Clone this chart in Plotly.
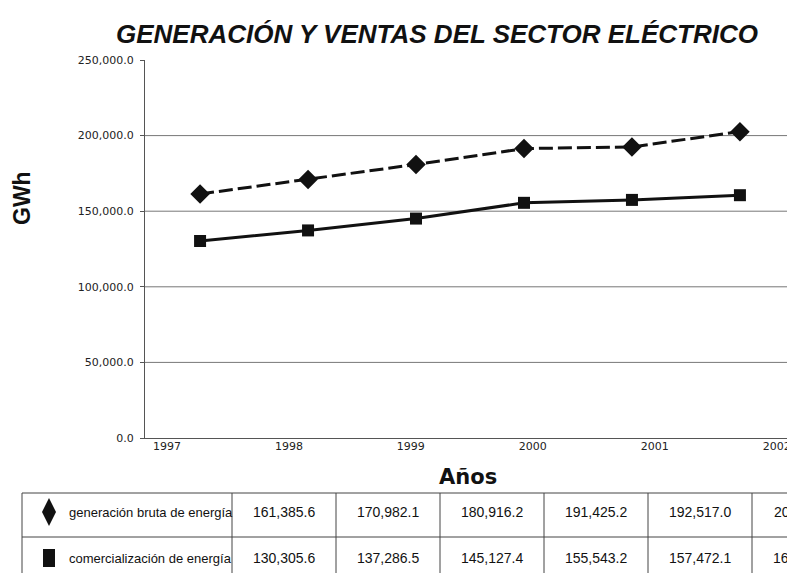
import plotly.graph_objects as go

# ---------------- data ----------------
years = [1997, 1998, 1999, 2000, 2001, 2002]
generacion = [161385.6, 170982.1, 180916.2, 191425.2, 192517.0, 202611.5]
comercializacion = [130305.6, 137286.5, 145127.4, 155543.2, 157472.1, 160584.0]
y_ticks = [0, 50000, 100000, 150000, 200000, 250000]
series_names = ["generación bruta de energía", "comercialización de energía"]
title_text = "GENERACIÓN Y VENTAS DEL SECTOR ELÉCTRICO"
y_title = "GWh"
x_title = "Años"

# ---------------- layout geometry ----------------
# The page body has an 8px margin, so the figure starts at (8, 8) of the window.
OFF = 8
WIN_W, WIN_H = 795, 573
W, H = WIN_W - OFF, WIN_H - OFF
# plot area in window pixels
L_WIN, R_WIN, T_WIN, B_WIN = 145, 795, 60, 438
L, R, T, B = L_WIN - OFF, R_WIN - OFF, T_WIN - OFF, B_WIN - OFF


def px(x_win):
    return (x_win - L_WIN) / (R_WIN - L_WIN)


def py(y_win):
    return (B_WIN - y_win) / (B_WIN - T_WIN)


INK = "#111111"
AXIS = "#555555"

fig = go.Figure()
fig.add_trace(go.Scatter(
    x=years, y=generacion, mode="lines+markers", name=series_names[0],
    line=dict(color=INK, width=3, dash="14px,5px"),
    marker=dict(symbol="diamond", size=15, color=INK),
))
fig.add_trace(go.Scatter(
    x=years, y=comercializacion, mode="lines+markers", name=series_names[1],
    line=dict(color=INK, width=3),
    marker=dict(symbol="square", size=12, color=INK),
))
# carrier trace for the year-label axis
fig.add_trace(go.Scatter(x=years, y=[None] * len(years), xaxis="x2",
                         showlegend=False, hoverinfo="skip", mode="markers"))

shapes = []
# horizontal gridlines (none at the top tick)
for v in y_ticks[1:-1]:
    shapes.append(dict(type="line", xref="paper", yref="y", x0=0, x1=1, y0=v, y1=v,
                       line=dict(color="#777777", width=1), layer="below"))

# ---------------- data table under the chart (window pixels) ----------------
col_edges = [22, 232, 336, 440, 544, 648, 752, 856]
row_edges = [493, 537, 581]
tbl_line = dict(color="#444444", width=1)
for yy in row_edges[:-1]:
    shapes.append(dict(type="line", xref="paper", yref="paper",
                       x0=px(col_edges[0]), x1=px(col_edges[-1]), y0=py(yy), y1=py(yy),
                       line=tbl_line))
for xx in col_edges:
    shapes.append(dict(type="line", xref="paper", yref="paper",
                       x0=px(xx), x1=px(xx), y0=py(row_edges[0]), y1=py(row_edges[-1]),
                       line=tbl_line))

row_centers = [512, 558]
sx = 49
dc = row_centers[0]
diamond_path = "M {a},{b} L {c},{d} L {a},{e} L {f},{d} Z".format(
    a=px(sx), b=py(dc - 14), c=px(sx + 7), d=py(dc), e=py(dc + 14), f=px(sx - 7))
shapes.append(dict(type="path", xref="paper", yref="paper", path=diamond_path,
                   fillcolor=INK, line=dict(color=INK, width=0)))
sc = row_centers[1]
shapes.append(dict(type="rect", xref="paper", yref="paper",
                   x0=px(sx - 6), x1=px(sx + 6), y0=py(sc - 9), y1=py(sc + 9),
                   fillcolor=INK, line=dict(color=INK, width=0)))

annotations = []
label_font = dict(family="Liberation Sans, Arial, sans-serif", size=13, color=INK)
num_font = dict(family="Liberation Sans, Arial, sans-serif", size=14, color=INK)
series_values = [generacion, comercializacion]
for r, (name, vals) in enumerate(zip(series_names, series_values)):
    annotations.append(dict(xref="paper", yref="paper", x=px(67), y=py(row_centers[r]),
                            xanchor="left", yanchor="middle", text=name, showarrow=False,
                            font=label_font))
    for c, v in enumerate(vals):
        cx = (col_edges[c + 1] + col_edges[c + 2]) / 2
        annotations.append(dict(xref="paper", yref="paper", x=px(cx), y=py(row_centers[r]),
                                xanchor="center", yanchor="middle", text=f"{v:,.1f}",
                                showarrow=False, font=num_font))

# axis titles
annotations.append(dict(xref="paper", yref="paper", x=px(22), y=py(198),
                        text=f"<b>{y_title}</b>", textangle=-90, showarrow=False,
                        xanchor="center", yanchor="middle",
                        font=dict(family="Liberation Sans, Arial, sans-serif", size=23,
                                  color=INK)))
annotations.append(dict(xref="paper", yref="paper", x=px(468), y=py(477),
                        text=f"<b>{x_title}</b>", showarrow=False,
                        xanchor="center", yanchor="middle",
                        font=dict(family="DejaVu Sans, sans-serif", size=21, color=INK)))

fig.update_layout(
    width=W, height=H,
    margin=dict(l=L, r=W - R, t=T, b=H - B, pad=0),
    paper_bgcolor="white", plot_bgcolor="white",
    showlegend=False,
    title=dict(text=f"<b><i>{title_text}</i></b>", x=(437 - OFF) / W, xref="container",
               xanchor="center", y=1 - (34 - OFF) / H, yref="container", yanchor="middle",
               font=dict(family="Liberation Sans, Arial, sans-serif", size=26, color=INK)),
    xaxis=dict(range=[1996.49, 2002.51], showticklabels=False, ticks="", showgrid=False,
               zeroline=False, showline=True, linecolor=AXIS, linewidth=1, fixedrange=True),
    xaxis2=dict(overlaying="x", anchor="y", side="bottom", range=[1996.82, 2002.15],
                tickvals=years, ticktext=[str(y) for y in years], ticks="", showgrid=False,
                zeroline=False, showline=False,
                tickfont=dict(family="DejaVu Sans, sans-serif", size=11, color="#222222")),
    yaxis=dict(range=[0, 250000], tickvals=y_ticks, tickformat=",.1f", ticks="outside",
               ticklen=4, tickcolor=AXIS, showline=True, linecolor=AXIS, linewidth=1,
               showgrid=False, zeroline=False, ticklabelstandoff=4,
               tickfont=dict(family="DejaVu Sans, sans-serif", size=11, color="#222222")),
    shapes=shapes,
    annotations=annotations,
)

fig.write_html("out.html")
